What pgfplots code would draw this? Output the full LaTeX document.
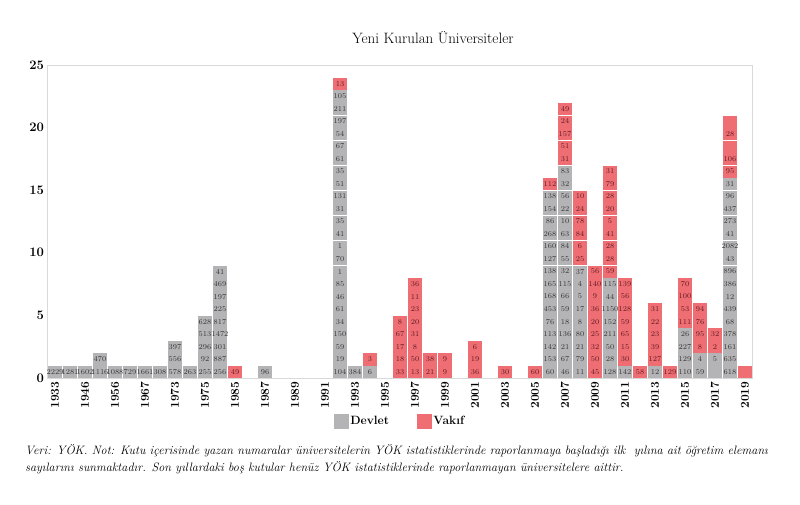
\documentclass[border=0pt]{standalone}
\usepackage{fontspec}
\usepackage{pgfplots}
\pgfplotsset{compat=1.18}
\usepackage{pgfplotstable}

\definecolor{devlet}{HTML}{B4B4B6}
\definecolor{vakif}{HTML}{EE6E74}
\definecolor{devlettext}{HTML}{333333}
\definecolor{vakiftext}{HTML}{5E1A1E}

% x = column (year), y = box centre, lab = faculty count printed in the box
\pgfplotstableread{
x y lab
0 0.5 2229
1 0.5 1281
2 0.5 1602
3 0.5 1116
3 1.5 470
4 0.5 1088
5 0.5 729
6 0.5 1661
7 0.5 308
8 0.5 578
8 1.5 556
8 2.5 397
9 0.5 263
10 0.5 255
10 1.5 92
10 2.5 296
10 3.5 513
10 4.5 628
11 0.5 256
11 1.5 887
11 2.5 301
11 3.5 1472
11 4.5 817
11 5.5 225
11 6.5 197
11 7.5 469
11 8.5 41
14 0.5 96
19 0.5 104
19 1.5 19
19 2.5 59
19 3.5 150
19 4.5 34
19 5.5 61
19 6.5 46
19 7.5 85
19 8.5 1
19 9.5 70
19 10.5 1
19 11.5 41
19 12.5 35
19 13.5 31
19 14.5 131
19 15.5 51
19 16.5 35
19 17.5 61
19 18.5 67
19 19.5 54
19 20.5 197
19 21.5 211
19 22.5 105
20 0.5 384
21 0.5 6
33 0.5 60
33 1.5 153
33 2.5 142
33 3.5 113
33 4.5 76
33 5.5 453
33 6.5 168
33 7.5 165
33 8.5 138
33 9.5 127
33 10.5 160
33 11.5 268
33 12.5 86
33 13.5 154
33 14.5 138
34 0.5 46
34 1.5 67
34 2.5 21
34 3.5 136
34 4.5 18
34 5.5 59
34 6.5 66
34 7.5 115
34 8.5 32
34 9.5 55
34 10.5 84
34 11.5 63
34 12.5 10
34 13.5 22
34 14.5 56
34 15.5 32
34 16.5 83
35 0.5 11
35 1.5 79
35 2.5 21
35 3.5 80
35 4.5 8
35 5.5 17
35 6.5 5
35 7.5 4
35 8.5 37
37 0.5 128
37 1.5 28
37 2.5 50
37 3.5 211
37 4.5 152
37 5.5 1150
37 6.5 44
37 7.5 115
38 0.5 142
40 0.5 12
42 0.5 110
42 1.5 129
42 2.5 227
42 3.5 26
43 0.5 59
43 1.5 4
44 0.5 {}
44 1.5 5
45 0.5 618
45 1.5 635
45 2.5 161
45 3.5 378
45 4.5 68
45 5.5 439
45 6.5 12
45 7.5 386
45 8.5 896
45 9.5 43
45 10.5 2082
45 11.5 41
45 12.5 273
45 13.5 437
45 14.5 96
45 15.5 31
}\devlettab

\pgfplotstableread{
x y lab
12 0.5 49
19 23.5 13
21 1.5 3
23 0.5 33
23 1.5 18
23 2.5 17
23 3.5 67
23 4.5 8
24 0.5 13
24 1.5 50
24 2.5 8
24 3.5 31
24 4.5 20
24 5.5 23
24 6.5 11
24 7.5 36
25 0.5 21
25 1.5 38
26 0.5 9
26 1.5 9
28 0.5 36
28 1.5 19
28 2.5 6
30 0.5 30
32 0.5 60
33 15.5 112
34 17.5 31
34 18.5 51
34 19.5 157
34 20.5 24
34 21.5 49
35 9.5 25
35 10.5 6
35 11.5 84
35 12.5 78
35 13.5 24
35 14.5 10
36 0.5 45
36 1.5 50
36 2.5 32
36 3.5 25
36 4.5 20
36 5.5 36
36 6.5 9
36 7.5 140
36 8.5 56
37 8.5 59
37 9.5 28
37 10.5 28
37 11.5 41
37 12.5 5
37 13.5 20
37 14.5 28
37 15.5 79
37 16.5 31
38 1.5 30
38 2.5 15
38 3.5 65
38 4.5 59
38 5.5 128
38 6.5 56
38 7.5 139
39 0.5 58
40 1.5 127
40 2.5 39
40 3.5 23
40 4.5 22
40 5.5 31
41 0.5 129
42 4.5 111
42 5.5 53
42 6.5 100
42 7.5 70
43 2.5 8
43 3.5 95
43 4.5 76
43 5.5 94
44 2.5 2
44 3.5 32
45 16.5 95
45 17.5 106
45 18.5 {}
45 19.5 28
45 20.5 {}
46 0.5 {}
}\vakiftab

\begin{document}
\begin{tikzpicture}
\useasboundingbox (0,0) rectangle (800pt,505pt);
\begin{axis}[
    at={(47.5pt,127pt)}, anchor=south west,
    scale only axis, width=705pt, height=313pt,
    xmin=-0.5, xmax=46.5, ymin=0, ymax=25,
    clip=false,
    axis line style={draw=black!15},
    major tick length=0pt,
    xtick={0,2,...,46},
    xticklabels={1933,1946,1956,1967,1973,1975,1985,1987,1989,1991,1993,1995,1997,1999,2001,2003,2005,2007,2009,2011,2013,2015,2017,2019},
    x tick label style={rotate=90, anchor=east, font=\bfseries\fontsize{12}{12}\selectfont},
    ytick={0,5,...,25},
    y tick label style={font=\bfseries\fontsize{13}{13}\selectfont},
    /pgf/number format/assume math mode=true,
    point meta=explicit symbolic,
    nodes near coords,
    nodes near coords align={center},
    every node near coord/.append style={anchor=center, inner sep=0pt, font=\fontsize{7.4}{7.4}\selectfont},
    legend columns=2,
    legend style={at={(0.5,-0.137)}, anchor=center, draw=none, fill=none,
        font=\bfseries\fontsize{12}{12}\selectfont,
        /tikz/every even column/.append style={column sep=26pt}},
]
\addplot[only marks, mark=square*, color=devlet, mark size=6.6pt,
    mark options={yscale=0.85, fill=devlet, draw=none},
    every node near coord/.append style={text=devlettext},
    legend image code/.code={\fill[devlet] (0pt,-7pt) rectangle (14pt,7pt);}]
    table[x=x, y=y, meta=lab] {\devlettab};
\addlegendentry{Devlet}
\addplot[only marks, mark=square*, color=vakif, mark size=6.6pt,
    mark options={yscale=0.85, fill=vakif, draw=none},
    every node near coord/.append style={text=vakiftext},
    legend image code/.code={\fill[vakif] (0pt,-7pt) rectangle (14pt,7pt);}]
    table[x=x, y=y, meta=lab] {\vakiftab};
\addlegendentry{Vakıf}
\end{axis}
\node[font=\fontsize{15}{15}\selectfont] at (433pt,467pt) {Yeni Kurulan Üniversiteler};
\node[anchor=west, inner sep=0pt, font=\itshape\fontsize{12.2}{12.2}\selectfont] at (25pt,54pt)
    {Veri: YÖK. Not: Kutu içerisinde yazan numaralar üniversitelerin YÖK istatistiklerinde raporlanmaya başladığı ilk \ yılına ait öğretim elemanı};
\node[anchor=west, inner sep=0pt, font=\itshape\fontsize{12.2}{12.2}\selectfont] at (25pt,37pt)
    {sayılarını sunmaktadır. Son yıllardaki boş kutular henüz YÖK istatistiklerinde raporlanmayan üniversitelere aittir.};
\end{tikzpicture}
\end{document}
